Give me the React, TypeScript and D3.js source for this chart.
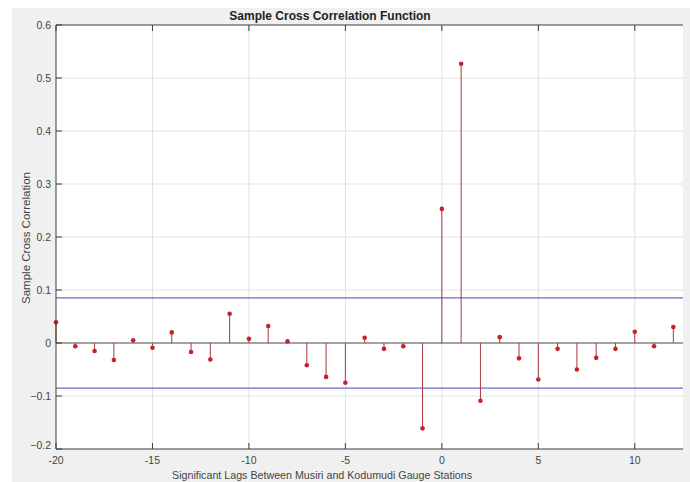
import * as d3 from 'd3';
import React, { useEffect, useRef } from 'react';

const lags = d3.range(-20, 13);
const xcf = [
    0.039, -0.006, -0.015, -0.032, 0.005, -0.009, 0.020, -0.017, -0.031, 0.055,
    0.008, 0.032, 0.003, -0.042, -0.064, -0.075, 0.010, -0.011, -0.006, -0.161,
    0.253, 0.527, -0.109, 0.011, -0.029, -0.069, -0.011, -0.050, -0.028, -0.011,
    0.021, -0.006, 0.030,
];
const bound = 0.085;
const xTicks = [-20, -15, -10, -5, 0, 5, 10];
const yTicks = [-0.2, -0.1, 0, 0.1, 0.2, 0.3, 0.4, 0.5, 0.6];

export default function App() {
    const wrapper = useRef<SVGSVGElement>(null);

    useEffect(() => {
        const svg = d3.select(wrapper.current);
        svg.selectAll('*').remove();
        const width = 690, height = 482;
        const m = { left: 56, top: 25, right: 683, bottom: 449 };
        const font = '"Liberation Sans", Arial, sans-serif';

        svg.append('rect').attr('x', 12).attr('y', 8)
            .attr('width', width - 12).attr('height', height - 8).attr('fill', '#f0f0f0');

        const x = d3.scaleLinear().domain([-20, 12.5]).range([m.left, m.right]);
        const y = d3.scaleLinear().domain([-0.2, 0.6]).range([m.bottom, m.top]);

        svg.append('rect').attr('x', m.left).attr('y', m.top)
            .attr('width', m.right - m.left).attr('height', m.bottom - m.top).attr('fill', '#fff');

        const g = svg.append('g');

        // grid
        g.selectAll('.gx').data(xTicks.slice(1)).enter().append('line')
            .attr('x1', d => x(d)).attr('x2', d => x(d))
            .attr('y1', m.top).attr('y2', m.bottom)
            .attr('stroke', '#e2e2e2');
        g.selectAll('.gy').data(yTicks.slice(1, -1)).enter().append('line')
            .attr('x1', m.left).attr('x2', m.right)
            .attr('y1', d => y(d)).attr('y2', d => y(d))
            .attr('stroke', '#e2e2e2');

        // bounds
        g.selectAll('.bound').data([bound, -bound]).enter().append('line')
            .attr('x1', m.left).attr('x2', m.right)
            .attr('y1', d => y(d)).attr('y2', d => y(d))
            .attr('stroke', '#6b6bc8').attr('stroke-width', 1.2);

        // zero line
        g.append('line').attr('x1', m.left).attr('x2', m.right)
            .attr('y1', y(0)).attr('y2', y(0))
            .attr('stroke', '#555').attr('stroke-width', 1);

        // stems
        g.selectAll('.stem').data(lags).enter().append('line')
            .attr('x1', d => x(d)).attr('x2', d => x(d))
            .attr('y1', y(0)).attr('y2', (d, i) => y(xcf[i]))
            .attr('stroke', '#a8383c').attr('stroke-width', 1);
        g.selectAll('.pt').data(lags).enter().append('circle')
            .attr('cx', d => x(d)).attr('cy', (d, i) => y(xcf[i]))
            .attr('r', 2.3).attr('fill', '#c8202c');

        // axes box
        g.append('path')
            .attr('d', `M${m.right},${m.top}H${m.left}V${m.bottom}H${m.right}`)
            .attr('fill', 'none').attr('stroke', '#3c3c3c').attr('stroke-width', 1);

        // ticks
        const tl = 6;
        g.selectAll('.tx').data(xTicks).enter().append('path')
            .attr('d', d => `M${x(d)},${m.bottom}v${-tl}M${x(d)},${m.top}v${tl}`)
            .attr('stroke', '#3c3c3c');
        g.selectAll('.ty').data(yTicks).enter().append('path')
            .attr('d', d => `M${m.left},${y(d)}h${tl}`)
            .attr('stroke', '#3c3c3c');

        g.selectAll('.lx').data(xTicks).enter().append('text')
            .attr('x', d => x(d)).attr('y', m.bottom + 15)
            .attr('text-anchor', 'middle')
            .attr('font-family', font).attr('font-size', 10.5).attr('fill', '#444')
            .text(d => d);
        g.selectAll('.ly').data(yTicks).enter().append('text')
            .attr('x', m.left - 5).attr('y', d => y(d) + (d === -0.2 ? 0 : 3.5))
            .attr('text-anchor', 'end')
            .attr('font-family', font).attr('font-size', 10.5).attr('fill', '#444')
            .text(d => d3.format('')(+d.toFixed(1)));

        svg.append('text').attr('x', 330).attr('y', 20)
            .attr('text-anchor', 'middle')
            .attr('font-family', font).attr('font-size', 12).attr('font-weight', 'bold').attr('fill', '#222')
            .text('Sample Cross Correlation Function');
        svg.append('text').attr('x', 322).attr('y', 479)
            .attr('text-anchor', 'middle')
            .attr('font-family', font).attr('font-size', 11.5).attr('fill', '#444')
            .attr('textLength', 300).attr('lengthAdjust', 'spacingAndGlyphs')
            .text('Significant Lags Between Musiri and Kodumudi Gauge Stations');
        svg.append('text')
            .attr('transform', `translate(30, 238) rotate(-90)`)
            .attr('text-anchor', 'middle')
            .attr('font-family', font).attr('font-size', 11.5).attr('fill', '#444')
            .attr('textLength', 132).attr('lengthAdjust', 'spacingAndGlyphs')
            .text('Sample Cross Correlation');
    }, []);

    return <svg ref={wrapper} width={690} height={482}
        style={{ position: 'absolute', left: 0, top: 0, background: '#fff' }} />;
}
